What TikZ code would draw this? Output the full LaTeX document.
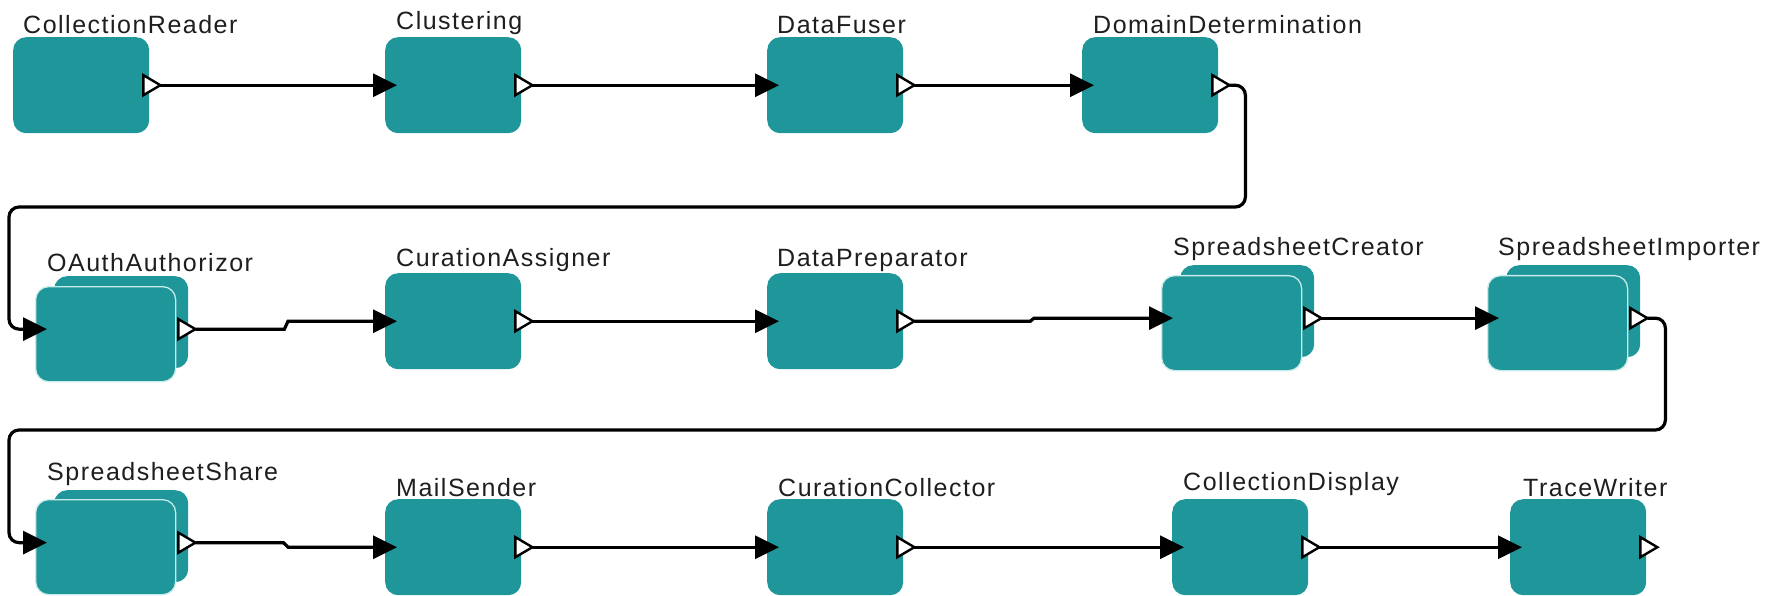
\documentclass[tikz,border=0pt]{standalone}
\usepackage{fontspec}
\newfontfamily\lblfont{Liberation Sans}[LetterSpace=6.0]
\usetikzlibrary{arrows.meta,calc}
\definecolor{procteal}{RGB}{31,150,153}
\definecolor{edgelight}{RGB}{200,235,235}
\definecolor{lbltext}{RGB}{30,30,30}
% output port: white triangle whose tip sits at the given coordinate
\newcommand\portat[1]{\draw[port] (#1) -- ++(-17,-10) -- ++(0,20) -- cycle;}

\begin{document}
\begin{tikzpicture}[x=1pt,y=-1pt,
  proc/.style={fill=procteal, rounded corners=13pt, minimum width=136pt,
    minimum height=96pt, inner sep=0pt, anchor=north west},
  stackback/.style={fill=procteal, rounded corners=13pt, minimum width=134pt,
    minimum height=92pt, inner sep=0pt, anchor=north west},
  stackfront/.style={fill=procteal, draw=edgelight, line width=1.3pt,
    rounded corners=13pt, minimum width=140pt, minimum height=95pt,
    inner sep=0pt, anchor=north west},
  lbl/.style={font=\lblfont\fontsize{25}{30}\selectfont, text=lbltext,
    inner sep=0pt, anchor=base west},
  conn/.style={draw=black, line width=3.2pt, -{Triangle[length=24pt,width=23pt]}},
  port/.style={fill=white, draw=black, line width=2.4pt, line join=miter}]

\useasboundingbox (0,0) rectangle (1781,596);

% ---- row 1
\node[proc] (cr) at (13,37) {};
\node[proc] (cl) at (385,37) {};
\node[proc] (df) at (767,37) {};
\node[proc] (dd) at (1082,37) {};

% ---- row 2
\node[stackback]  (oa-b) at (54,276) {};
\node[stackfront] (oa)   at (35,286) {};
\node[proc] (ca) at (385,273) {};
\node[proc] (dp) at (767,273) {};
\node[stackback]  (sc-b) at (1180,265) {};
\node[stackfront] (sc)   at (1161,275) {};
\node[stackback]  (si-b) at (1506,265) {};
\node[stackfront] (si)   at (1487,275) {};

% ---- row 3
\node[stackback]  (ss-b) at (54,490) {};
\node[stackfront] (ss)   at (35,499) {};
\node[proc] (ms) at (385,499) {};
\node[proc] (cc) at (767,499) {};
\node[proc] (cd) at (1172,499) {};
\node[proc] (tw) at (1510,499) {};

% ---- labels
\node[lbl] (cr-l) at (23,34)    {CollectionReader};
\node[lbl] (cl-l) at (396,30)   {Clustering};
\node[lbl] (df-l) at (777,34)   {DataFuser};
\node[lbl] (dd-l) at (1093,34)  {DomainDetermination};
\node[lbl] (oa-l) at (47,272)   {OAuthAuthorizor};
\node[lbl] (ca-l) at (396,266)  {CurationAssigner};
\node[lbl] (dp-l) at (777,266)  {DataPreparator};
\node[lbl] (sc-l) at (1173,255) {SpreadsheetCreator};
\node[lbl] (si-l) at (1498,255) {SpreadsheetImporter};
\node[lbl] (ss-l) at (47,480)   {SpreadsheetShare};
\node[lbl] (ms-l) at (396,496)  {MailSender};
\node[lbl] (cc-l) at (778,496)  {CurationCollector};
\node[lbl] (cd-l) at (1183,490) {CollectionDisplay};
\node[lbl] (tw-l) at (1523,496) {TraceWriter};

% ---- port coordinates: single boxes
\foreach \n in {cr,cl,df,dd,ca,dp,ms,cc,cd,tw}{
  \coordinate (\n-o) at ($(\n.east)+(11,0)$);
  \coordinate (\n-i) at ($(\n.west)+(12,0)$);
}
% ---- port coordinates: stacked boxes (centred on the whole stack)
\foreach \n in {oa,sc,ss,si}{
  \coordinate (\n-o) at ($(\n-b.north east)!.5!(\n-b.north east |- \n.south)+(7,0)$);
  \coordinate (\n-i) at ($(\n.west |- \n-o)+(12,0)$);
}

% ---- connectors
\draw[conn] (cr-o) -- (cl-i);
\draw[conn] (cl-o) -- (df-i);
\draw[conn] (df-o) -- (dd-i);
\draw[conn, rounded corners=10pt] (dd-o) -- ++(16,0) |- (9,207) |- (oa-i);
\draw[conn] (oa-o) -- ($(oa-o)+(89,0)$) -- ($(ca-i)+(-109,0)$) -- (ca-i);
\draw[conn] (ca-o) -- (dp-i);
\draw[conn] (dp-o) -- ($(dp-o)+(116,0)$) -- ($(sc-i)+(-139,0)$) -- (sc-i);
\draw[conn] (sc-o) -- (si-i);
\draw[conn, rounded corners=10pt] (si-o) -- ++(18,0) |- (9,430) |- (ss-i);
\draw[conn] (ss-o) -- ($(ss-o)+(88,0)$) -- ($(ms-i)+(-109,0)$) -- (ms-i);
\draw[conn] (ms-o) -- (cc-i);
\draw[conn] (cc-o) -- (cd-i);
\draw[conn] (cd-o) -- (tw-i);

% ---- output ports
\foreach \n in {cr,cl,df,dd,oa,ca,dp,sc,si,ss,ms,cc,cd,tw}{
  \portat{\n-o}
}
\end{tikzpicture}
\end{document}
